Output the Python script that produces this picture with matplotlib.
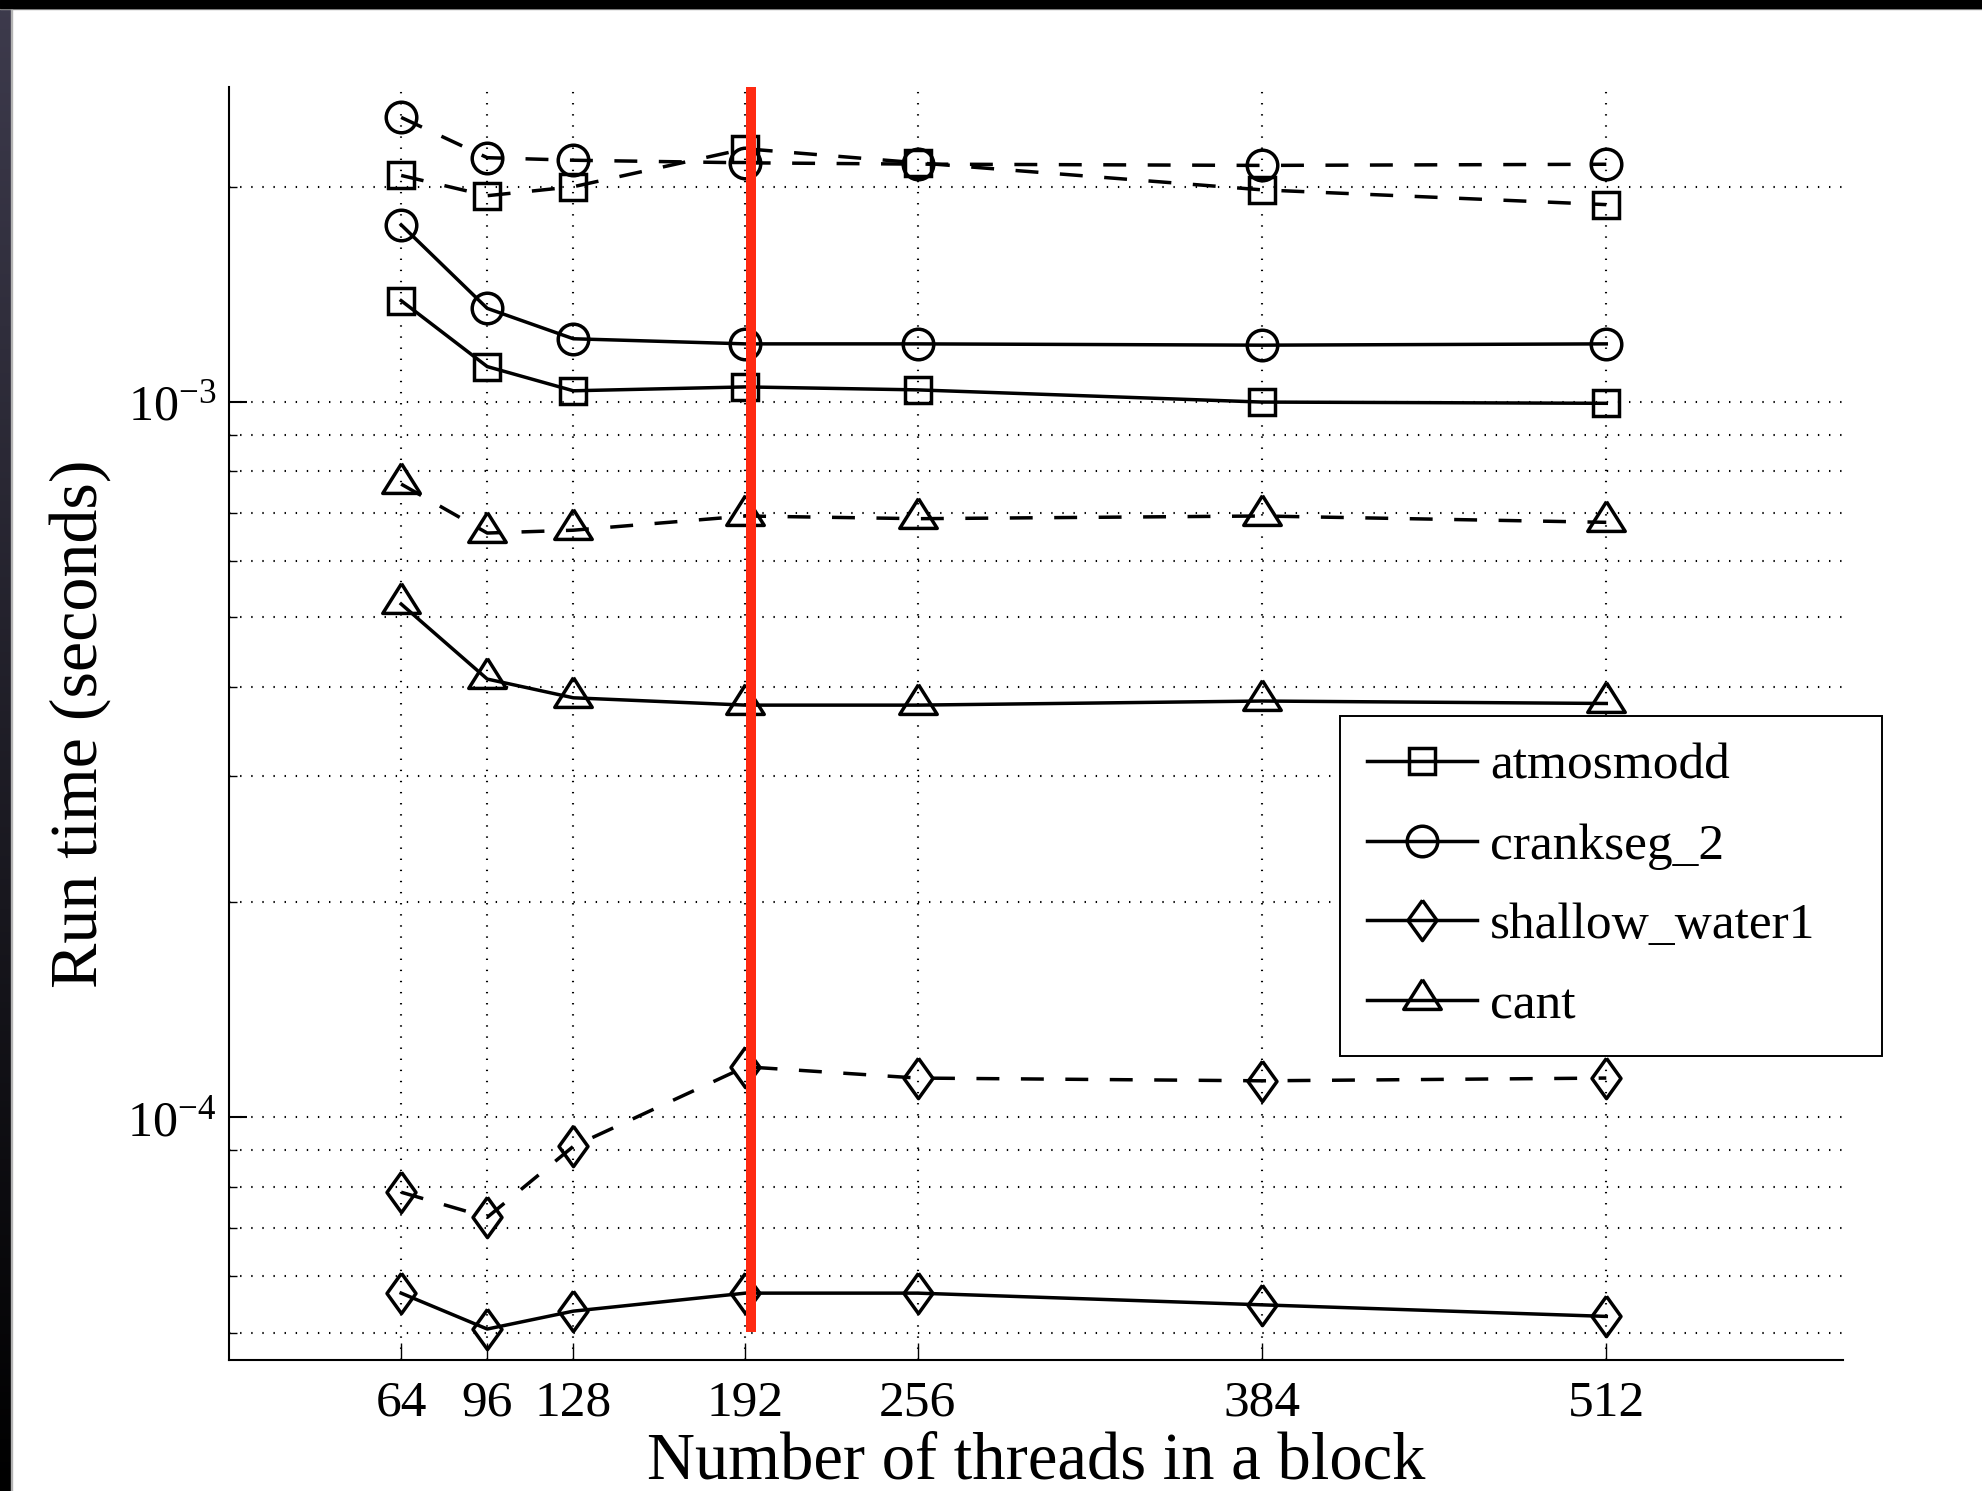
import numpy as np
import matplotlib
matplotlib.use('Agg')
import matplotlib.pyplot as plt
from matplotlib.ticker import LogLocator, NullFormatter, FixedLocator

# --- data (run time in seconds) ---
threads = [64, 96, 128, 192, 256, 384, 512]

atmos_solid = [1.386e-3, 1.121e-3, 1.037e-3, 1.050e-3, 1.040e-3, 1.000e-3, 0.996e-3]
atmos_dash = [2.074e-3, 1.943e-3, 2.000e-3, 2.260e-3, 2.160e-3, 1.980e-3, 1.888e-3]
crank_solid = [1.769e-3, 1.352e-3, 1.226e-3, 1.206e-3, 1.206e-3, 1.201e-3, 1.206e-3]
crank_dash = [2.500e-3, 2.196e-3, 2.178e-3, 2.160e-3, 2.151e-3, 2.142e-3, 2.150e-3]
shallow_solid = [5.68e-5, 5.06e-5, 5.36e-5, 5.68e-5, 5.68e-5, 5.47e-5, 5.27e-5]
shallow_dash = [7.86e-5, 7.25e-5, 9.11e-5, 1.177e-4, 1.135e-4, 1.125e-4, 1.135e-4]
cant_solid = [5.22e-4, 4.10e-4, 3.86e-4, 3.77e-4, 3.77e-4, 3.82e-4, 3.79e-4]
cant_dash = [7.68e-4, 6.56e-4, 6.62e-4, 6.93e-4, 6.87e-4, 6.93e-4, 6.79e-4]

labels = ['atmosmodd', 'crankseg_2', 'shallow_water1', 'cant']
red_x = 194
red_y = [5.02e-5, 2.76e-3]

plt.rcParams['font.family'] = ['Liberation Serif', 'DejaVu Serif']
plt.rcParams['mathtext.fontset'] = 'custom'
plt.rcParams['mathtext.rm'] = 'Liberation Serif'
plt.rcParams['mathtext.it'] = 'Liberation Serif:italic'
plt.rcParams['lines.scale_dashes'] = False

# marker shapes like the MATLAB ones
tri = [(0, 0.7), (-0.63, -0.3), (0.63, -0.3), (0, 0.7)]
dia = [(0, 1), (0.72, 0), (0, -1), (-0.72, 0), (0, 1)]

lw = 2.5
dash = (0, (16.5, 15.5))
common = dict(color='black', lw=lw, mfc='none', mec='black', mew=lw)

fig = plt.figure(figsize=(19.82, 14.91), dpi=100)
ax = fig.add_axes([229/1982, 1 - 1360/1491, (1843 - 229)/1982, (1360 - 87)/1491])

ax.plot(threads, atmos_solid, marker='s', ms=18.5, label=labels[0], **common)
ax.plot(threads, crank_solid, marker='o', ms=22, label=labels[1], **common)
ax.plot(threads, shallow_solid, marker=dia, ms=29, label=labels[2], **common)
ax.plot(threads, cant_solid, marker=tri, ms=30, label=labels[3], **common)

ax.plot(threads, atmos_dash, marker='s', ms=18.5, ls=dash, **common)
ax.plot(threads, crank_dash, marker='o', ms=22, ls=dash, **common)
ax.plot(threads, shallow_dash, marker=dia, ms=29, ls=dash, **common)
ax.plot(threads, cant_dash, marker=tri, ms=30, ls=dash, **common)

ax.plot([red_x, red_x], red_y, color='#ff2a12', lw=7.2, solid_capstyle='butt', zorder=5)

ax.set_yscale('log')
ax.set_xlim(0, 600)
ax.set_ylim(4.58e-5, 2.757e-3)
ax.xaxis.set_major_locator(FixedLocator(threads))
ax.yaxis.set_major_locator(LogLocator(base=10))
ax.yaxis.set_minor_locator(LogLocator(base=10, subs=np.arange(2, 10)))
ax.yaxis.set_minor_formatter(NullFormatter())

for side in ['top', 'right']:
    ax.spines[side].set_visible(False)
for side in ['left', 'bottom']:
    ax.spines[side].set_linewidth(1.5)

ax.tick_params(axis='x', which='major', direction='in', length=12, width=1.0,
               labelsize=37, pad=14.5)
ax.tick_params(axis='y', which='major', direction='in', length=13, width=1.5,
               labelsize=36, pad=9)
ax.tick_params(axis='y', which='minor', direction='in', length=6, width=1.0)

grid_style = dict(color='black', linestyle=(0, (1, 7)), linewidth=1.5)
ax.grid(True, which='major', axis='both', **grid_style)
ax.grid(True, which='minor', axis='y', **grid_style)
ax.set_axisbelow(True)

ax.set_xlabel('Number of threads in a block', fontsize=48)
ax.xaxis.set_label_coords(0.5, -0.056)
ax.set_ylabel('Run time (seconds)', fontsize=49)
ax.yaxis.set_label_coords(-0.073, 0.5)

leg = ax.legend(loc='upper left', bbox_to_anchor=(1340/1982, 443/1491, 542/1982, 332/1491),
                bbox_transform=fig.transFigure, mode='expand', borderaxespad=0,
                fontsize=37, handlelength=2.15, handletextpad=0.25, borderpad=0.52,
                labelspacing=0.64, fancybox=False, framealpha=1, edgecolor='black')
leg.get_frame().set_linewidth(1.4)

# slide frame: dark band on top and on the left
band = fig.add_axes([0, 0, 11/1982, 1], zorder=-1)
grad = np.linspace(0, 1, 256)[:, None]
col = np.stack([0.24*grad, 0.23*grad, 0.30*grad], axis=-1)
band.imshow(col[::-1], aspect='auto', extent=[0, 1, 0, 1])
band.set_axis_off()
fig.patches.append(plt.Rectangle((0, 1 - 8/1491), 1, 8/1491, transform=fig.transFigure,
                                 color='black', zorder=10))
fig.patches.append(plt.Rectangle((0, 1 - 9/1491), 1, 1/1491, transform=fig.transFigure,
                                 color='0.6', zorder=9))
fig.patches.append(plt.Rectangle((11/1982, 0), 1/1982, 1, transform=fig.transFigure,
                                 color='0.7', zorder=9))

fig.savefig('out.png', dpi=100)
plt.close()
